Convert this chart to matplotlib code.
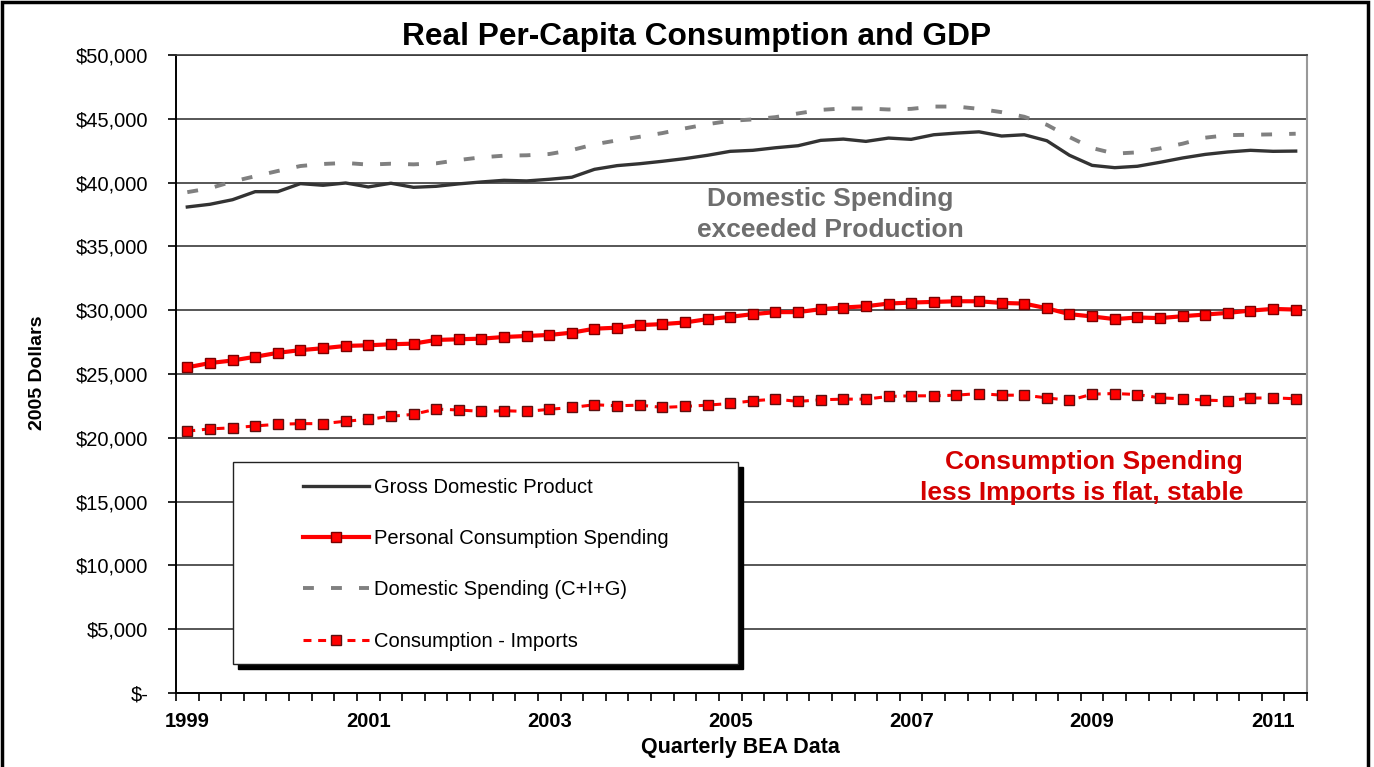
"""
Real per-capita consumption and GDP, quarterly BEA data 1999Q1-2011Q2.
Re-drawn in the style of the original Excel chart.
"""

import matplotlib
matplotlib.use("Agg")
import matplotlib.pyplot as plt
from matplotlib.patches import Rectangle
from matplotlib.ticker import FuncFormatter, FixedLocator
import numpy as np

plt.rcParams["font.family"] = ["Liberation Sans", "DejaVu Sans"]

# quarters 1999Q1 .. 2011Q2
quarters = [f"{y}Q{q}" for y in range(1999, 2012) for q in range(1, 5)][:50]
year_labels = ["1999", "2001", "2003", "2005", "2007", "2009", "2011"]

gdp = [38090, 38300, 38660, 39290, 39290, 39920, 39790, 39970, 39660, 39950,
       39630, 39710, 39900, 40050, 40180, 40130, 40260, 40420, 41040, 41330,
       41480, 41670, 41880, 42140, 42450, 42530, 42730, 42890, 43310, 43410,
       43230, 43490, 43390, 43750, 43880, 43980, 43650, 43750, 43280, 42140,
       41350, 41170, 41280, 41590, 41930, 42210, 42400, 42530, 42450, 42470]

pce = [25520, 25860, 26060, 26350, 26660, 26870, 27020, 27200, 27250, 27330,
       27380, 27670, 27720, 27770, 27900, 27980, 28060, 28240, 28550, 28630,
       28830, 28910, 29040, 29300, 29480, 29690, 29850, 29850, 30080, 30210,
       30310, 30520, 30600, 30650, 30700, 30700, 30570, 30520, 30150, 29690,
       29510, 29300, 29430, 29380, 29530, 29660, 29790, 29970, 30100, 30050]

domestic = [39250, 39560, 40080, 40500, 40910, 41300, 41460, 41540, 41410, 41480,
            41430, 41510, 41770, 41980, 42110, 42140, 42240, 42550, 43000, 43310,
            43590, 43880, 44250, 44580, 44840, 44950, 45130, 45420, 45700, 45810,
            45810, 45730, 45780, 45960, 45960, 45780, 45520, 45160, 44530, 43570,
            42710, 42270, 42370, 42680, 43050, 43520, 43720, 43750, 43780, 43830]

cons_less_imports = [20520, 20700, 20780, 20930, 21060, 21110, 21110, 21300, 21450, 21680,
                     21840, 22250, 22180, 22070, 22120, 22070, 22230, 22380, 22590, 22510,
                     22560, 22380, 22460, 22560, 22690, 22900, 23030, 22850, 22980, 23030,
                     23030, 23240, 23290, 23290, 23340, 23470, 23340, 23340, 23130, 22930,
                     23420, 23470, 23390, 23130, 23060, 22950, 22900, 23110, 23130, 23060]

W, H = 1374, 767


def money(v, _pos):
    if v == 0:
        return "$-"
    return f"${v:,.0f}"


fig = plt.figure(figsize=(W / 100, H / 100), dpi=100)
fig.patch.set_facecolor("white")
ax = fig.add_axes([176 / W, 1 - 693 / H, (1307 - 176) / W, (693 - 55) / H])

x = np.arange(len(quarters))

ax.plot(x, gdp, color="#333333", lw=2.4, solid_joinstyle="round",
        label="Gross Domestic Product", zorder=4)
ax.plot(x, pce, color="#ff0000", lw=3.0, marker="s", markersize=7.5,
        markerfacecolor="#ff0000", markeredgecolor="#7a0000", markeredgewidth=1.0,
        label="Personal Consumption Spending", zorder=5)
ax.plot(x, domestic, color="#808080", lw=2.8, linestyle=(0, (2.8, 4.4)),
        label="Domestic Spending (C+I+G)", zorder=3)
ax.plot(x, cons_less_imports, color="#ff0000", lw=2.2, linestyle=(0, (2.6, 2.2)),
        marker="s", markersize=6.8, markerfacecolor="#ff0000",
        markeredgecolor="#5a1010", markeredgewidth=1.0,
        label="Consumption - Imports", zorder=5)

ax.set_xlim(-0.5, len(quarters) - 0.5)
ax.set_ylim(0, 50000)

ax.yaxis.set_major_locator(FixedLocator(np.arange(0, 50001, 5000)))
ax.yaxis.set_major_formatter(FuncFormatter(money))
ax.tick_params(axis="y", direction="out", length=6, width=1.2, color="black",
               labelsize=14.5, pad=14)
ax.grid(axis="y", color="#3a3a3a", lw=1.2)
ax.set_axisbelow(True)

ax.set_xticks(np.arange(0, len(quarters), 8))
ax.set_xticklabels(year_labels, fontsize=14.5, fontweight="bold")
ax.set_xticks(np.arange(-0.5, len(quarters)), minor=True)
ax.tick_params(axis="x", which="major", length=0, pad=14)
ax.tick_params(axis="x", which="minor", direction="out", length=6, width=1.2,
               color="black")

for side in ("left", "bottom"):
    ax.spines[side].set_color("black")
    ax.spines[side].set_linewidth(1.4)
ax.spines["top"].set_color("#3a3a3a")
ax.spines["top"].set_linewidth(1.2)
ax.spines["right"].set_color("#999999")
ax.spines["right"].set_linewidth(1.5)

fig.text(697 / W, 1 - 37 / H, "Real Per-Capita Consumption and GDP",
         ha="center", va="center", fontsize=22.8, fontweight="bold")
fig.text(740 / W, 1 - 747 / H, "Quarterly BEA Data",
         ha="center", va="center", fontsize=15.5, fontweight="bold")
fig.text(38 / W, 1 - 373 / H, "2005 Dollars", rotation=90,
         ha="center", va="center", fontsize=14, fontweight="bold")

fig.text(830 / W, 1 - 214.5 / H, "Domestic Spending\nexceeded Production",
         ha="center", va="center", multialignment="center", linespacing=1.38,
         fontsize=19, fontweight="bold", color="#6e6e6e")
fig.text(1243 / W, 1 - 477.5 / H, "Consumption Spending\nless Imports is flat, stable",
         ha="right", va="center", multialignment="right", linespacing=1.38,
         fontsize=19, fontweight="bold", color="#d40000")

# legend box with the hard black shadow (drawn inside the axes so the
# legend can sit on top of it)
bx0, by0, bx1, by1 = 233, 462, 738, 664
ax.add_patch(Rectangle(((bx0 + 5) / W, 1 - (by1 + 5) / H), (bx1 - bx0) / W,
                       (by1 - by0) / H, transform=fig.transFigure, clip_on=False,
                       facecolor="black", edgecolor="black", zorder=6))
ax.add_patch(Rectangle((bx0 / W, 1 - by1 / H), (bx1 - bx0) / W, (by1 - by0) / H,
                       transform=fig.transFigure, clip_on=False, facecolor="white",
                       edgecolor="#222222", lw=1.0, zorder=7))
leg = ax.legend(loc="upper left", bbox_to_anchor=(303 / W, 1 - 478 / H),
                bbox_transform=fig.transFigure, frameon=False, fontsize=14.5,
                handlelength=3.3, handletextpad=0.25, labelspacing=1.6,
                borderpad=0, borderaxespad=0)
leg.set_zorder(8)

# outer frame of the chart object
fig.patches.append(Rectangle((2 / W, -0.05), (1368 - 2) / W, 1.05 - 2 / H,
                             transform=fig.transFigure, fill=False,
                             edgecolor="black", lw=2.5, zorder=10))

fig.savefig("out.png", dpi=100)
